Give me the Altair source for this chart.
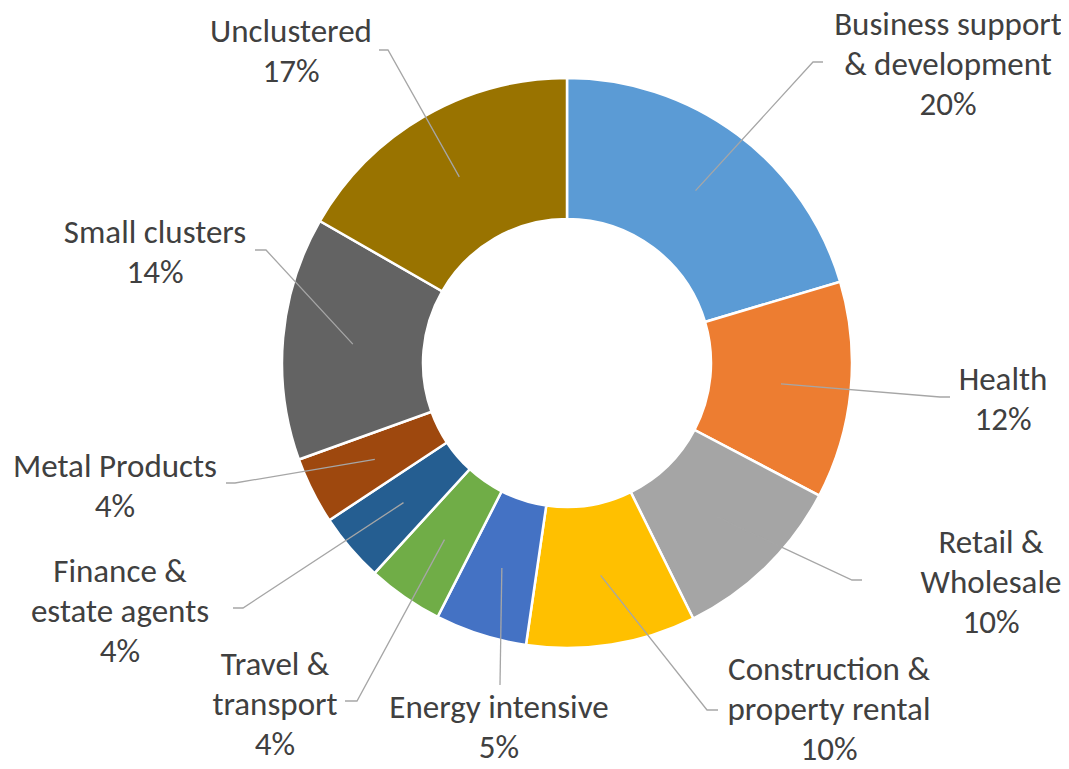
import altair as alt
import pandas as pd
import numpy as np

# ---------------- data ----------------
categories = [
    "Business support & development", "Health", "Retail & Wholesale",
    "Construction & property rental", "Energy intensive", "Travel & transport",
    "Finance & estate agents", "Metal Products", "Small clusters", "Unclustered",
]
label_lines = [
    ["Business support", "& development"], ["Health"], ["Retail &", "Wholesale"],
    ["Construction &", "property rental"], ["Energy intensive"], ["Travel &", "transport"],
    ["Finance &", "estate agents"], ["Metal Products"], ["Small clusters"], ["Unclustered"],
]
shares = [20.4, 12.3, 10.0, 9.6, 5.2, 4.3, 3.9, 3.8, 13.8, 16.7]
pct_labels = ["20%", "12%", "10%", "10%", "5%", "4%", "4%", "4%", "14%", "17%"]
colors = ["#5B9BD5", "#ED7D31", "#A5A5A5", "#FFC000", "#4472C4",
          "#70AD47", "#255E91", "#9E480E", "#636363", "#997300"]

# ---------------- layout ----------------
W, H = 1053, 753
CX, CY = 559, 355
R_OUT, R_IN, R_LEAD = 285, 144, 215
FS, LH = 33, 40
FONT = "Calibri, Carlito, Lato, sans-serif"

# label block: x centre, first-line baseline (chart px)
label_pos = [(940, 27), (995, 382), (983, 545), (821, 672), (491, 710),
             (267, 667), (112, 574), (107, 469), (147, 235), (283, 34)]
# leader elbow and tail end (chart px)
leader_elbow = [(805, 54), (932, 389), (844, 572), (699, 702), (492, 677),
                (349, 693), (235, 600), (227, 475), (258, 242), (380, 42)]
leader_end = [(815, 54), (942, 389), (854, 572), (710, 702), (492, 677),
              (337, 693), (225, 600), (218, 475), (247, 242), (371, 42)]

# ---------------- tables ----------------
df = pd.DataFrame({"category": categories, "share": shares, "idx": range(len(categories))})

total = float(np.sum(shares))
cum = np.cumsum(shares)
mid = (cum - np.array(shares) / 2) / total * 2 * np.pi

rows = []
for i, c in enumerate(categories):
    sx = CX + R_LEAD * np.sin(mid[i])
    sy = CY - R_LEAD * np.cos(mid[i])
    pts = [(sx, sy), leader_elbow[i], leader_end[i]]
    for k, (px, py) in enumerate(pts):
        rows.append({"category": c, "pt": k, "px": float(px), "py": float(py)})
lead_df = pd.DataFrame(rows)

txt_rows = []
for i, c in enumerate(categories):
    txt_rows.append({
        "category": c,
        "label": "\n".join(label_lines[i] + [pct_labels[i]]),
        "tx": label_pos[i][0],
        "ty": label_pos[i][1] - round(0.79 * FS),
    })
txt_df = pd.DataFrame(txt_rows)

# ---------------- chart ----------------
arcs = alt.Chart(df).mark_arc(
    innerRadius=R_IN, outerRadius=R_OUT, stroke="white", strokeWidth=2.5
).encode(
    theta=alt.Theta("share:Q", stack=True),
    color=alt.Color("category:N", scale=alt.Scale(domain=categories, range=colors), legend=None),
    order=alt.Order("idx:Q", sort="ascending"),
    x=alt.value(CX),
    y=alt.value(CY),
)

leaders = alt.Chart(lead_df).mark_line(color="#A6A6A6", strokeWidth=1.3).encode(
    x=alt.X("px:Q", scale=None, axis=None),
    y=alt.Y("py:Q", scale=None, axis=None),
    detail="category:N",
    order="pt:Q",
)

texts = alt.Chart(txt_df).mark_text(
    align="center", baseline="top", fontSize=FS, lineHeight=LH,
    font=FONT, color="#404040", lineBreak="\n"
).encode(
    x=alt.X("tx:Q", scale=None, axis=None),
    y=alt.Y("ty:Q", scale=None, axis=None),
    text="label:N",
)

chart = alt.layer(arcs, leaders, texts).properties(
    width=W, height=H, autosize="none", padding=0, background="white"
).configure_view(stroke=None)

chart.save("out.html", embed_options={"renderer": "svg", "actions": False})
